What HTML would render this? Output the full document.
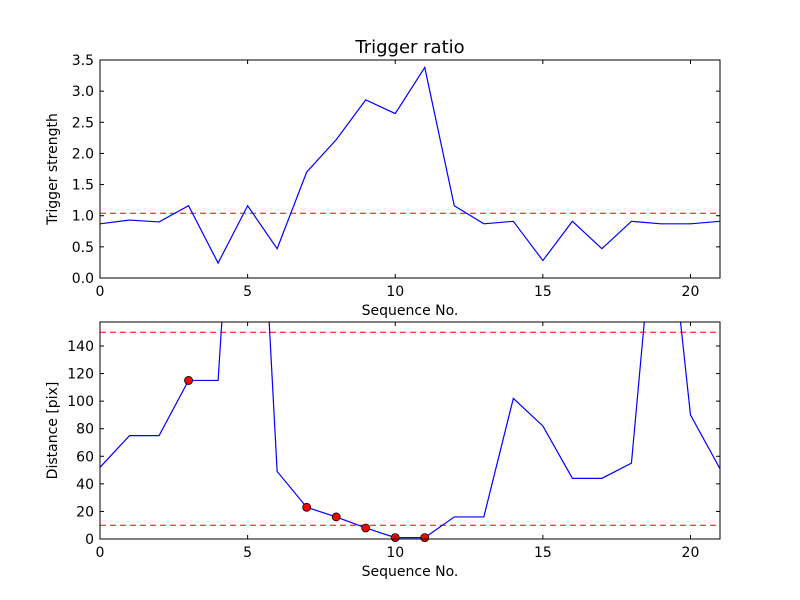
<!DOCTYPE html>
<html><head><meta charset="utf-8"><style>body{margin:0;background:#fff}svg{display:block}text{font-family:"DejaVu Sans","Liberation Sans",sans-serif;fill:#000}</style></head>
<body>
<svg id="c" width="800" height="600" viewBox="0 0 800 600"></svg>
<script>
const seq = [0,1,2,3,4,5,6,7,8,9,10,11,12,13,14,15,16,17,18,19,20,21];
const strength = [0.87,0.93,0.90,1.16,0.24,1.16,0.47,1.70,2.22,2.86,2.64,3.38,1.16,0.87,0.91,0.28,0.91,0.47,0.91,0.87,0.87,0.91];
const strengthThreshold = 1.04;
const distance = [52,75,75,115,115,450,49,23,16,8,1,1,16,16,102,82,44,44,55,290,90,51];
const markedIdx = [3,7,8,9,10,11];
const distThresholds = [150,10];
const xTicks = [0,5,10,15,20];
const yTicksTop = [0,0.5,1.0,1.5,2.0,2.5,3.0,3.5];
const yTicksBot = [0,20,40,60,80,100,120,140];

const svg=document.getElementById('c');const NS='http://www.w3.org/2000/svg';
function mk(tag,attrs,name,parent){const e=document.createElementNS(NS,tag);for(const k in attrs)e.setAttribute(k,attrs[k]);


(parent||svg).appendChild(e);return e;}
function panel(L,T,R,B,xmax,ymax,name){
 const g=mk('g',{},name);
 const sx=v=>L+(v/xmax)*(R-L), sy=v=>B-(v/ymax)*(B-T);
 const cid='clip-'+name;
 const d=mk('clipPath',{id:cid},name+'-clip',g);mk('rect',{x:L,y:T,width:R-L,height:B-T},name+'-clip-rect',d);
 return {g,sx,sy,L,T,R,B,cid};
}
function axes(p,yt,fmt,ylabel,prefix){
 mk('rect',{x:p.L,y:p.T,width:p.R-p.L,height:p.B-p.T,fill:'none',stroke:'#000','stroke-width':1},prefix+'-frame',p.g);
 xTicks.forEach(v=>{const x=p.sx(v);
  mk('line',{x1:x,x2:x,y1:p.B,y2:p.B-4,stroke:'#000'},prefix+'-x-tick',p.g);
  mk('line',{x1:x,x2:x,y1:p.T,y2:p.T+4,stroke:'#000'},prefix+'-x-tick-top',p.g);
  const t=mk('text',{x:x,y:p.B+18,'font-size':14,'text-anchor':'middle'},prefix+'-x-tick-label',p.g);t.textContent=v;});
 yt.forEach(v=>{const y=p.sy(v);
  mk('line',{x1:p.L,x2:p.L+4,y1:y,y2:y,stroke:'#000'},prefix+'-y-tick',p.g);
  mk('line',{x1:p.R,x2:p.R-4,y1:y,y2:y,stroke:'#000'},prefix+'-y-tick-right',p.g);
  const t=mk('text',{x:p.L-6,y:y+5,'font-size':14,'text-anchor':'end'},prefix+'-y-tick-label',p.g);t.textContent=fmt(v);});
 const xl=mk('text',{x:(p.L+p.R)/2,y:p.B+37,'font-size':14,'text-anchor':'middle'},prefix+'-x-axis-title',p.g);xl.textContent='Sequence No.';
 const yl=mk('text',{x:0,y:0,'font-size':14,'text-anchor':'middle',transform:`translate(${p.L-43},${(p.T+p.B)/2}) rotate(-90)`},prefix+'-y-axis-title',p.g);yl.textContent=ylabel;
}
// top
const p1=panel(100,60,720,278,21,3.5,'top-panel');
mk('line',{x1:p1.L,x2:p1.R,y1:p1.sy(strengthThreshold),y2:p1.sy(strengthThreshold),stroke:'#f00','stroke-dasharray':'6,4'},'threshold-line',p1.g);
mk('polyline',{points:seq.map((s,i)=>p1.sx(s)+','+p1.sy(strength[i])).join(' '),fill:'none',stroke:'#00f','stroke-width':1.2,'clip-path':`url(#${p1.cid})`},'strength-line',p1.g);
axes(p1,yTicksTop,v=>v.toFixed(1),'Trigger strength','top');
const tt=mk('text',{x:410,y:53,'font-size':18,'text-anchor':'middle'},'chart-title',p1.g);tt.textContent='Trigger ratio';
// bottom
const p2=panel(100,322,720,539,21,157.4,'bottom-panel');
distThresholds.forEach(v=>mk('line',{x1:p2.L,x2:p2.R,y1:p2.sy(v),y2:p2.sy(v),stroke:'#f00','stroke-dasharray':'6,4'},'distance-threshold-line',p2.g));
mk('polyline',{points:seq.map((s,i)=>p2.sx(s)+','+p2.sy(distance[i])).join(' '),fill:'none',stroke:'#00f','stroke-width':1.2,'clip-path':`url(#${p2.cid})`},'distance-line',p2.g);
markedIdx.forEach(i=>mk('circle',{cx:p2.sx(seq[i]),cy:p2.sy(distance[i]),r:4,fill:'#f00',stroke:'#000','stroke-width':0.8},'distance-marker',p2.g));
axes(p2,yTicksBot,v=>String(v),'Distance [pix]','bottom');
</script>
</body></html>
